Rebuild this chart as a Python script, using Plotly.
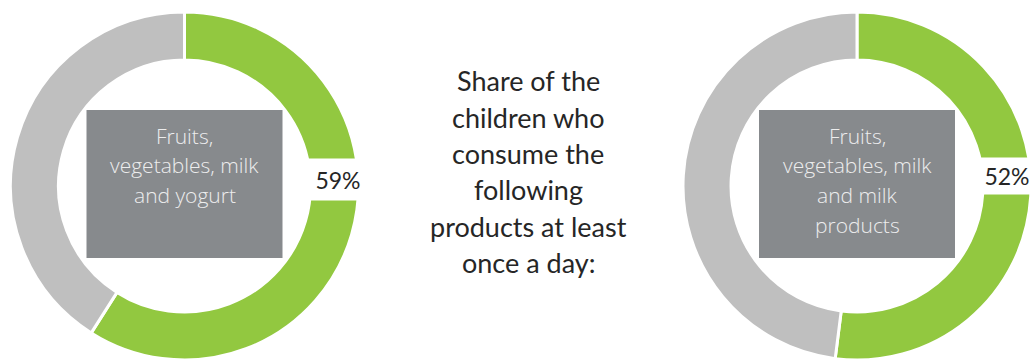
import plotly.graph_objects as go

# Share of children (%) eating each product group at least once a day
green_shares = [59, 52]
slice_names = ["At least once a day", "Less often"]

panel_labels = [
    ["Fruits,", "vegetables, milk", "and yogurt"],
    ["Fruits,", "vegetables, milk", "and milk", "products"],
]

title_lines = [
    "Share of the",
    "children who",
    "consume the",
    "following",
    "products at least",
    "once a day:",
]

W, H = 1033, 360
GREEN = "#92C840"
GREY_RING = "#BFBFBF"
BOX = "#878A8D"
FONT = "Lato"

# Donut geometry in pixels
centers_x = [184.5, 857.0]
center_y = 186.0
radius = 174.0
box_half_w, box_top, box_bottom = 98.0, 110.0, 258.0
pct_pos = [(338.0, 179.0), (1007.0, 176.0)]
pct_patch_h = [41, 36]


def px(x):
    return x / W


def py(y):
    return 1 - y / H


fig = go.Figure()
annotations = []
shapes = []

for i, share in enumerate(green_shares):
    cx = centers_x[i]
    fig.add_trace(go.Pie(
        labels=slice_names,
        values=[share, 100 - share],
        sort=False,
        direction="clockwise",
        rotation=0,
        hole=0.724,
        marker=dict(colors=[GREEN, GREY_RING], line=dict(color="white", width=3)),
        textinfo="none",
        hoverinfo="skip",
        showlegend=False,
        domain=dict(x=[px(cx - radius), px(cx + radius)],
                    y=[py(center_y + radius), py(center_y - radius)]),
    ))

    # grey caption panel inside the ring
    shapes.append(dict(
        type="rect", xref="paper", yref="paper",
        x0=px(cx - box_half_w), x1=px(cx + box_half_w),
        y0=py(box_bottom), y1=py(box_top),
        fillcolor=BOX, line=dict(width=0), layer="above",
    ))
    for j, line in enumerate(panel_labels[i]):
        annotations.append(dict(
            text=line, xref="paper", yref="paper",
            x=px(cx), y=py(136 + 29.5 * j),
            xanchor="center", yanchor="middle", showarrow=False,
            font=dict(family="Open Sans", size=21, color="#EDEDED", weight=300),
        ))

    # percentage label on a white patch over the ring
    lx, ly = pct_pos[i]
    annotations.append(dict(
        text=f"{share}%", xref="paper", yref="paper",
        x=px(lx), y=py(ly), xanchor="center", yanchor="middle",
        showarrow=False, bgcolor="white", width=54,
        height=pct_patch_h[i] - 4, borderpad=2,
        font=dict(family=FONT, size=23, color="#262626"),
    ))

for k, line in enumerate(title_lines):
    annotations.append(dict(
        text=line, xref="paper", yref="paper",
        x=px(528), y=py(81 + 36.3 * k),
        xanchor="center", yanchor="middle", showarrow=False,
        font=dict(family=FONT, size=27, color="#262626"),
    ))

fig.update_layout(
    width=W, height=H,
    margin=dict(l=0, r=0, t=0, b=0),
    paper_bgcolor="white", plot_bgcolor="white",
    shapes=shapes, annotations=annotations,
)

fig.write_html("out.html", config={"displayModeBar": False})
